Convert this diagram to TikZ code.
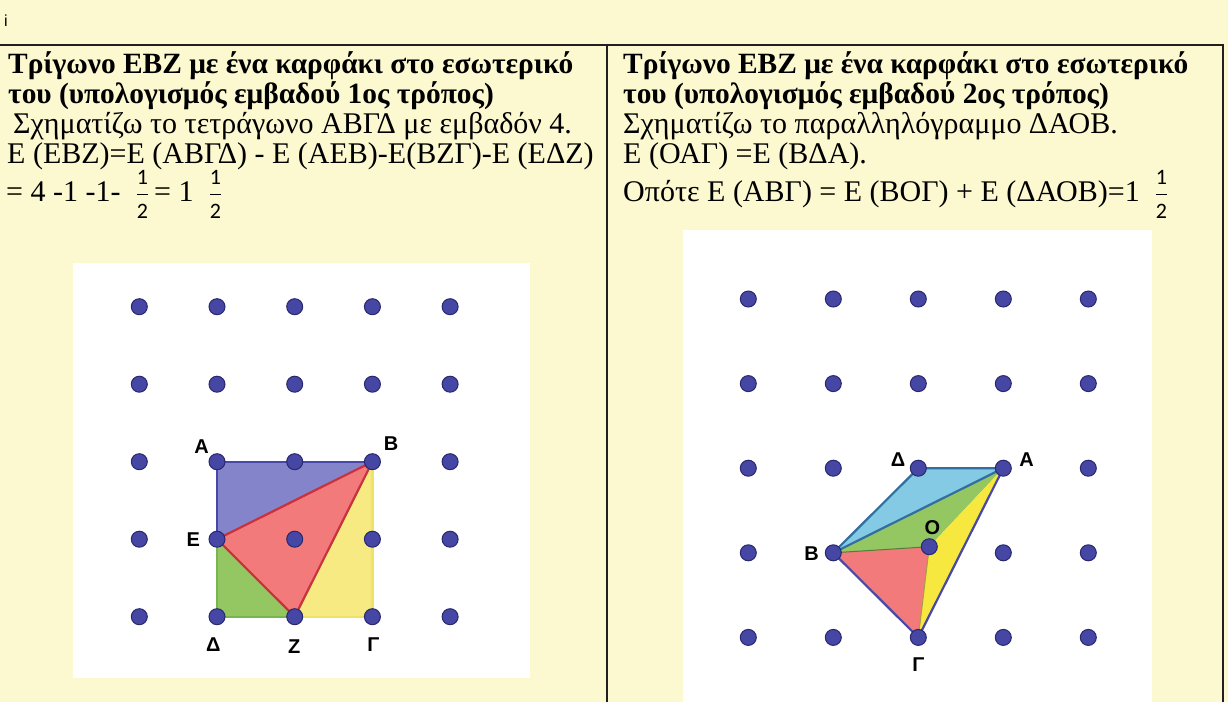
\documentclass[tikz,border=0pt]{standalone}
\usepackage{amsmath}
\usepackage{fontspec}
\setmainfont{Liberation Serif}
\newfontfamily\labelfont{Liberation Sans}
\newfontfamily\fracfont{Carlito}

\definecolor{paper}{RGB}{252,248,208}
\definecolor{rulecol}{RGB}{35,31,32}
\definecolor{pegfill}{RGB}{70,70,165}
\definecolor{pegrim}{RGB}{40,40,110}
\definecolor{triblue}{RGB}{132,132,202}
\definecolor{trired}{RGB}{242,122,122}
\definecolor{triyellow}{RGB}{248,234,130}
\definecolor{trigreen}{RGB}{148,198,98}
\definecolor{trisky}{RGB}{132,202,228}
\definecolor{trilemon}{RGB}{246,232,62}
\definecolor{edgeblue}{RGB}{72,72,168}
\definecolor{edgered}{RGB}{200,50,60}
\definecolor{edgeyellow}{RGB}{240,226,100}
\definecolor{edgegreen}{RGB}{120,180,80}
\definecolor{edgeteal}{RGB}{50,110,160}

\newcommand{\halffrac}{$\genfrac{}{}{1pt}{0}{\hbox{\fracfont\fontsize{22}{22}\selectfont 1}}{\hbox{\fracfont\fontsize{22}{22}\selectfont 2}}$}

\tikzset{
  txt/.style={anchor=base west, inner sep=0pt, font=\fontsize{30}{30}\selectfont},
  head/.style={txt, font=\fontsize{29.4}{30}\selectfont\bfseries},
  peg/.style={circle, fill=pegfill, draw=pegrim, line width=1pt, minimum size=16pt, inner sep=0pt},
  lbl/.style={font=\labelfont\bfseries\fontsize{20}{20}\selectfont, inner sep=0pt},
  edge/.style={line width=2.2pt, line join=round},
}

\begin{document}
\begin{tikzpicture}[x=1pt,y=-1pt]
    % background
    \fill[paper] (0,0) rectangle (1228,702);
    \useasboundingbox (0,0) rectangle (1228,702);
    \node[font=\labelfont\fontsize{16}{16}\selectfont, inner sep=0pt] (mark) at (6,21) {i};

    % table rules
    \draw[rulecol, line width=2.5pt] (0,45) -- (1223,45) -- (1223,702);
    \draw[rulecol, line width=2.5pt] (607,45) -- (607,702);

    % left cell text
    \node[head] (lhead1) at (8,73) {Τρίγωνο ΕΒΖ με ένα καρφάκι στο εσωτερικό};
    \node[head] (lhead2) at (8,103) {του (υπολογισμός εμβαδού 1ος τρόπος)};
    \node[txt] (ltext1) at (13,133) {Σχηματίζω το τετράγωνο ΑΒΓΔ με εμβαδόν 4.};
    \node[txt] (ltext2) at (7,163) {Ε (ΕΒΖ)=Ε (ΑΒΓΔ) - Ε (ΑΕΒ)-Ε(ΒΖΓ)-Ε (ΕΔΖ)};
    \node[txt] (ltext3) at (6,201) {= 4 -1 -1-\ \ \halffrac\,= 1\ \ \halffrac};

    % right cell text
    \node[head] (rhead1) at (623,73) {Τρίγωνο ΕΒΖ με ένα καρφάκι στο εσωτερικό};
    \node[head] (rhead2) at (623,103) {του (υπολογισμός εμβαδού 2ος τρόπος)};
    \node[txt] (rtext1) at (623,133) {Σχηματίζω το παραλληλόγραμμο ΔΑΟΒ.};
    \node[txt] (rtext2) at (623,163) {Ε (ΟΑΓ) =Ε (ΒΔΑ).};
    \node[txt] (rtext3) at (623,201) {Οπότε Ε (ΑΒΓ) = Ε (ΒΟΓ) + Ε (ΔΑΟΒ)=1\ \ \halffrac};

    % left geoboard
    \fill[white] (73,263) rectangle (530,678);
    \foreach \i in {0,...,4}
        \foreach \j in {0,...,4}
            \coordinate (L-\i-\j) at ({139.3+77.7*\i},{306.7+77.5*\j});
    \fill[triblue] (L-1-2) -- (L-1-3) -- (L-3-2) -- cycle;
    \fill[trigreen] (L-1-3) -- (L-1-4) -- (L-2-4) -- cycle;
    \fill[triyellow] (L-3-2) -- (L-2-4) -- (L-3-4) -- cycle;
    \fill[trired] (L-1-3) -- (L-3-2) -- (L-2-4) -- cycle;
    \draw[edge, edgeyellow] (L-2-4) -- (L-3-4) -- (L-3-2);
    \draw[edge, edgegreen] (L-1-3) -- (L-1-4) -- (L-2-4);
    \draw[edge, edgeblue] (L-1-3) -- (L-1-2) -- (L-3-2);
    \draw[edge, edgered] (L-1-3) -- (L-3-2) -- (L-2-4) -- cycle;
    \foreach \i in {0,...,4}
        \foreach \j in {0,...,4}
            \node[peg] (pL-\i-\j) at (L-\i-\j) {};
    \node[lbl] (lA) at (201.7,446.7) {Α};
    \node[lbl] (lB) at (391,443.3) {Β};
    \node[lbl] (lE) at (193.3,540) {Ε};
    \node[lbl] (lD) at (213.3,645) {Δ};
    \node[lbl] (lZ) at (294.3,646.7) {Ζ};
    \node[lbl] (lG) at (373.3,645) {Γ};

    % right geoboard
    \fill[white] (683,230) rectangle (1152,702);
    \foreach \i in {0,...,4}
        \foreach \j in {0,...,4}
            \coordinate (R-\i-\j) at ({748.3+85*\i},{299+84.6*\j});
    \coordinate (R-O) at (929.3,546.7);
    \fill[trisky] (R-1-3) -- (R-2-2) -- (R-3-2) -- cycle;
    \fill[trigreen] (R-1-3) -- (R-3-2) -- (R-O) -- cycle;
    \fill[trilemon] (R-O) -- (R-3-2) -- (R-2-4) -- cycle;
    \fill[trired] (R-1-3) -- (R-O) -- (R-2-4) -- cycle;
    \draw[line width=1pt, edgegreen!70!black] (R-1-3) -- (R-O);
    \draw[line width=1pt, edgeyellow!70!black] (R-O) -- (R-2-4);
    \draw[edge, edgeteal] (R-1-3) -- (R-2-2) -- (R-3-2) -- cycle;
    \draw[edge, edgeblue] (R-3-2) -- (R-2-4) -- (R-1-3);
    \foreach \i in {0,...,4}
        \foreach \j in {0,...,4}{
            \ifnum\i=2 \ifnum\j=3 \else
                \node[peg] (pR-\i-\j) at (R-\i-\j) {};
            \fi \else
                \node[peg] (pR-\i-\j) at (R-\i-\j) {};
            \fi
        }
    \node[peg] (pR-O) at (R-O) {};
    \node[lbl] (rD) at (898,460) {Δ};
    \node[lbl] (rA) at (1026.7,459.3) {Α};
    \node[lbl] (rO) at (932.3,527.7) {Ο};
    \node[lbl] (rB) at (811.7,553.3) {Β};
    \node[lbl] (rG) at (918.3,665) {Γ};
\end{tikzpicture}
\end{document}
